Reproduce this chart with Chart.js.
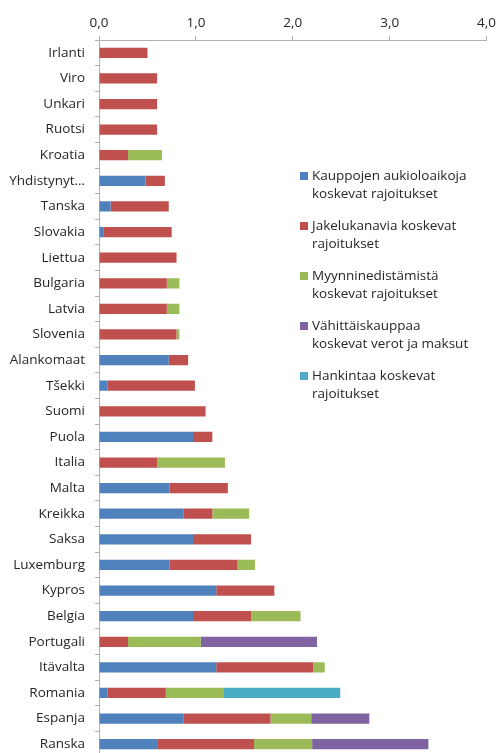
<!DOCTYPE html>
<html>
<head>
<meta charset="utf-8">
<script src="https://cdn.jsdelivr.net/npm/chart.js@4.4.1/dist/chart.umd.min.js"></script>
<style>
  html, body { margin: 0; padding: 0; background: #fff; overflow: hidden; }
  #wrap { width: 501px; height: 757px; position: relative; }
</style>
</head>
<body>
<div id="wrap"><canvas id="chart"></canvas></div>
<script>
// --- DATA ---
const countries = ["Irlanti", "Viro", "Unkari", "Ruotsi", "Kroatia", "Yhdistynyt…", "Tanska", "Slovakia",
  "Liettua", "Bulgaria", "Latvia", "Slovenia", "Alankomaat", "Tšekki", "Suomi", "Puola", "Italia", "Malta",
  "Kreikka", "Saksa", "Luxemburg", "Kypros", "Belgia", "Portugali", "Itävalta", "Romania", "Espanja", "Ranska"];

const openingHours = [0, 0, 0, 0, 0, 0.48, 0.12, 0.05, 0, 0, 0, 0, 0.72, 0.09, 0, 0.97, 0, 0.73,
  0.87, 0.97, 0.73, 1.21, 0.97, 0, 1.21, 0.09, 0.87, 0.6];
const channels = [0.5, 0.6, 0.6, 0.6, 0.3, 0.2, 0.6, 0.7, 0.8, 0.7, 0.7, 0.8, 0.2, 0.9, 1.1, 0.2, 0.6, 0.6,
  0.3, 0.6, 0.7, 0.6, 0.6, 0.3, 1.0, 0.6, 0.9, 1.0];
const promotion = [0, 0, 0, 0, 0.35, 0, 0, 0, 0, 0.13, 0.13, 0.03, 0, 0, 0, 0, 0.7, 0,
  0.38, 0, 0.18, 0, 0.51, 0.75, 0.12, 0.6, 0.42, 0.6];
const retailTaxes = [0, 0, 0, 0, 0, 0, 0, 0, 0, 0, 0, 0, 0, 0, 0, 0, 0, 0,
  0, 0, 0, 0, 0, 1.2, 0, 0, 0.6, 1.2];
const procurement = [0, 0, 0, 0, 0, 0, 0, 0, 0, 0, 0, 0, 0, 0, 0, 0, 0, 0,
  0, 0, 0, 0, 0, 0, 0, 1.2, 0, 0];

const seriesNames = [
  ["Kauppojen aukioloaikoja", "koskevat rajoitukset"],
  ["Jakelukanavia koskevat", "rajoitukset"],
  ["Myynninedistämistä", "koskevat rajoitukset"],
  ["Vähittäiskauppaa", "koskevat verot ja maksut"],
  ["Hankintaa koskevat", "rajoitukset"]
];
const seriesColors = ["#4F81BD", "#C0504D", "#9BBB59", "#8064A2", "#4BACC6"];
const xTicks = [0, 1, 2, 3, 4];

const FONT = "'Open Sans', 'Noto Sans', sans-serif";
const SIZE = 13.5;
const TEXT = "#262626";
const AXIS = "#b0b0b0";

// --- LEGEND (drawn inside chart area, multi-line labels) ---
const sideLegend = {
    id: 'sideLegend',
    afterDraw(chart) {
        const ctx = chart.ctx;
        ctx.save();
        ctx.font = SIZE + "px " + FONT;
        ctx.textBaseline = 'middle';
        ctx.textAlign = 'left';
        chart.data.datasets.forEach((ds, i) => {
            const y = 176 + i * 50;
            ctx.fillStyle = ds.backgroundColor;
            ctx.fillRect(300, y - 4, 8, 8);
            ctx.fillStyle = TEXT;
            ds.legendLines.forEach((line, j) => ctx.fillText(line, 312, y + j * 18));
        });
        ctx.restore();
    }
};

const allSeries = [openingHours, channels, promotion, retailTaxes, procurement];

new Chart(document.getElementById('chart'), {
    type: 'bar',
    data: {
        labels: countries,
        datasets: allSeries.map((vals, i) => ({
            label: seriesNames[i].join(' '),
            legendLines: seriesNames[i],
            data: vals,
            backgroundColor: seriesColors[i],
            borderWidth: 0,
            barPercentage: 0.4,
            categoryPercentage: 1
        }))
    },
    options: {
        indexAxis: 'y',
        responsive: true,
        maintainAspectRatio: false,
        animation: false,
        layout: { padding: { left: 0, right: 12, top: 0, bottom: 0 } },
        plugins: {
            legend: { display: false },
            tooltip: { enabled: false }
        },
        scales: {
            x: {
                position: 'top',
                stacked: true,
                min: 0,
                max: 4,
                afterBuildTicks: s => { s.ticks = xTicks.map(v => ({ value: v })); },
                afterFit: s => { s.height = 40; },
                border: { color: AXIS },
                grid: { drawOnChartArea: false, tickLength: 4, color: AXIS },
                ticks: {
                    color: TEXT,
                    font: { family: FONT, size: SIZE },
                    padding: 5,
                    callback: v => v.toFixed(1).replace('.', ',')
                }
            },
            y: {
                stacked: true,
                afterFit: s => { s.width = 99; s.paddingTop = 0; s.paddingBottom = 0; },
                border: { color: AXIS },
                grid: { drawOnChartArea: false, tickLength: 4, color: AXIS, offset: true },
                ticks: {
                    color: TEXT,
                    font: { family: FONT, size: SIZE },
                    padding: 10,
                    autoSkip: false
                }
            }
        }
    },
    plugins: [sideLegend]
});
</script>
</body>
</html>
